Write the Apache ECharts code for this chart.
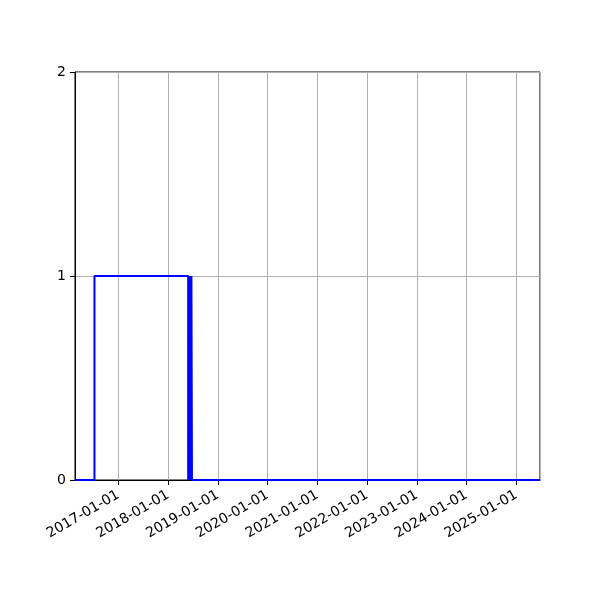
<!DOCTYPE html>
<html>
<head>
<meta charset="utf-8">
<script src="https://cdn.jsdelivr.net/npm/echarts@6/dist/echarts.min.js"></script>
<style>
  html, body { margin: 0; padding: 0; background: #fff; }
  #main { width: 600px; height: 600px; }
</style>
</head>
<body>
<div id="main"></div>
<script>
// state changes (step 'post'): date and value held until next date
var dates = ['2016-02-17', '2016-07-09', '2018-05-28', '2018-05-31', '2018-06-04', '2018-06-07',
             '2018-06-11', '2018-06-14', '2018-06-18', '2018-06-21', '2018-06-25', '2018-06-29', '2025-06-24'];
var values = [0, 1, 0, 1, 0, 1, 0, 1, 0, 1, 0, 0, 0];
var xRange = ['2016-02-17', '2025-06-24'];
var yTicks = [0, 1, 2];

function pad(n) { return n < 10 ? '0' + n : '' + n; }

function fmtDate(v) {
    var d = new Date(v);
    return d.getFullYear() + '-' + pad(d.getMonth() + 1) + '-' + pad(d.getDate());
}

var seriesData = [];
for (var i = 0; i < dates.length; i++) {
    seriesData.push([dates[i], values[i]]);
}

var myChart = echarts.init(document.getElementById('main'));
var YEAR = 365.25 * 24 * 3600 * 1000;
var option = {
    animation: false,
    textStyle: { fontFamily: 'DejaVu Sans' },
    grid: {
        left: 75, right: 60, top: 72, bottom: 120,
        show: true, borderColor: '#000', borderWidth: 1
    },
    xAxis: {
        type: 'time',
        min: xRange[0],
        max: xRange[1],
        minInterval: YEAR,
        maxInterval: YEAR,
        axisLine: { show: true, lineStyle: { color: '#000', width: 1 } },
        axisTick: { show: true, length: 5, lineStyle: { color: '#000' } },
        axisLabel: {
            rotate: 30,
            color: '#000',
            fontSize: 14,
            margin: 14,
            hideOverlap: false,
            formatter: function (v) { return fmtDate(v); }
        },
        splitLine: { show: true, lineStyle: { color: '#b0b0b0', width: 1 } }
    },
    yAxis: {
        type: 'value',
        min: yTicks[0],
        max: yTicks[yTicks.length - 1],
        interval: 1,
        axisLine: { show: true, lineStyle: { color: '#000', width: 1 } },
        axisTick: { show: true, length: 5, lineStyle: { color: '#000' } },
        axisLabel: { color: '#000', fontSize: 14, margin: 9 },
        splitLine: { show: true, lineStyle: { color: '#b0b0b0', width: 1 } }
    },
    series: [{
        type: 'line',
        step: 'end',
        data: seriesData,
        showSymbol: false,
        lineStyle: { color: '#0000ff', width: 2 },
        itemStyle: { color: '#0000ff' }
    }]
};
myChart.setOption(option);
</script>
</body>
</html>
